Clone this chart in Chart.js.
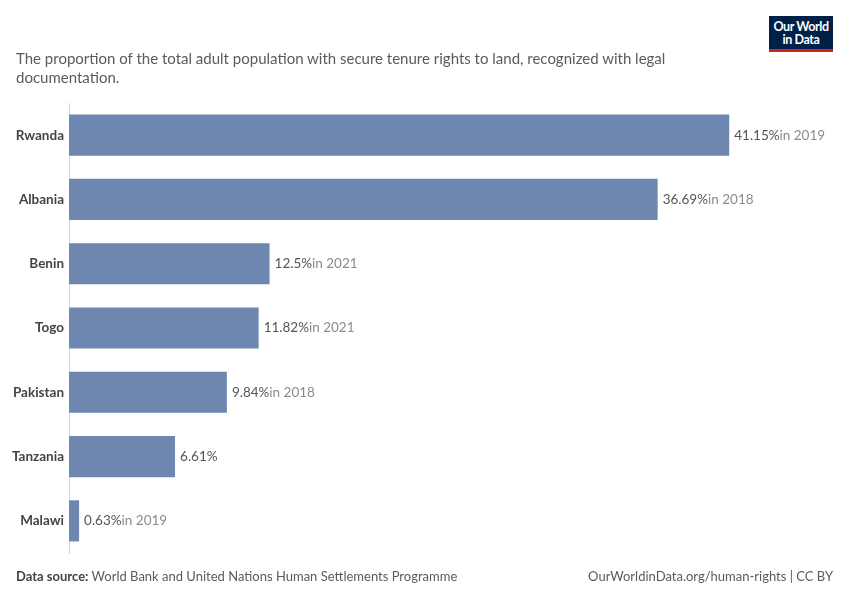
<!DOCTYPE html>
<html>
<head>
<meta charset="utf-8">
<script src="https://cdn.jsdelivr.net/npm/chart.js@4"></script>
<style>
  html, body { margin: 0; padding: 0; background: #fff; }
  #wrap { position: relative; width: 850px; height: 600px; font-family: Lato, "Noto Sans", sans-serif; }
  #chartBox { position: absolute; left: 0; top: 0; width: 850px; height: 600px; }
  #title { position: absolute; left: 16px; top: 49px; width: 700px; font-size: 15px; line-height: 19px; color: #5b5b5b; }
  #logo { position: absolute; left: 769px; top: 16px; width: 64px; height: 36px; background: #002147; color: #fff; font-size: 12.5px; font-weight: 700; line-height: 13px; text-align: center; box-sizing: border-box; padding-top: 4px; border-bottom: 3px solid #ce261e; letter-spacing: -0.4px; }
  #src { position: absolute; left: 16px; top: 568px; font-size: 13px; color: #5b5b5b; }
  #src b { color: #444; }
  #url { position: absolute; right: 17px; top: 568px; font-size: 13px; color: #5b5b5b; }
</style>
</head>
<body>
<div id="wrap">
  <div id="chartBox"><canvas id="c"></canvas></div>
  <div id="title">The proportion of the total adult population with secure tenure rights to land, recognized with legal documentation.</div>
  <div id="logo">Our World<br>in Data</div>
  <div id="src"><b>Data source:</b> World Bank and United Nations Human Settlements Programme</div>
  <div id="url">OurWorldinData.org/human-rights | CC BY</div>
</div>
<script>
const countries = ["Rwanda", "Albania", "Benin", "Togo", "Pakistan", "Tanzania", "Malawi"];
const values = [41.15, 36.69, 12.5, 11.82, 9.84, 6.61, 0.63];
const valueLabels = ["41.15%", "36.69%", "12.5%", "11.82%", "9.84%", "6.61%", "0.63%"];
const years = ["in 2019", "in 2018", "in 2021", "in 2021", "in 2018", "", "in 2019"];

const labelPlugin = {
  id: 'valueLabels',
  afterDatasetsDraw(chart) {
    const ctx = chart.ctx;
    const meta = chart.getDatasetMeta(0);
    ctx.save();
    ctx.textBaseline = 'middle';
    ctx.textAlign = 'left';
    meta.data.forEach((bar, i) => {
      const x = bar.x + 5;
      const y = bar.y;
      ctx.font = '13.5px Lato, "Noto Sans", sans-serif';
      ctx.fillStyle = '#555555';
      ctx.fillText(valueLabels[i], x, y);
      const w = ctx.measureText(valueLabels[i]).width;
      ctx.fillStyle = '#8c8c8c';
      ctx.fillText(years[i], x + w, y);
    });
    ctx.restore();
  }
};

new Chart(document.getElementById('c'), {
  type: 'bar',
  data: {
    labels: countries,
    datasets: [{
      data: values,
      backgroundColor: '#6d87b1',
      borderWidth: 0,
      categoryPercentage: 1,
      barPercentage: 0.64
    }]
  },
  options: {
    indexAxis: 'y',
    responsive: true,
    maintainAspectRatio: false,
    animation: false,
    layout: { padding: { top: 103, bottom: 47, left: 0, right: 59 } },
    plugins: { legend: { display: false }, tooltip: { enabled: false } },
    scales: {
      x: {
        min: 0, max: 45,
        display: false
      },
      y: {
        grid: { display: false, drawTicks: false },
        border: { display: true, color: '#d6d6d6', width: 1 },
        ticks: {
          padding: 5,
          color: '#444444',
          font: { family: 'Lato, "Noto Sans", sans-serif', size: 13.5, weight: 'bold' }
        },
        afterFit(scale) { scale.width = 69; }
      }
    }
  },
  plugins: [labelPlugin]
});
</script>
</body>
</html>
